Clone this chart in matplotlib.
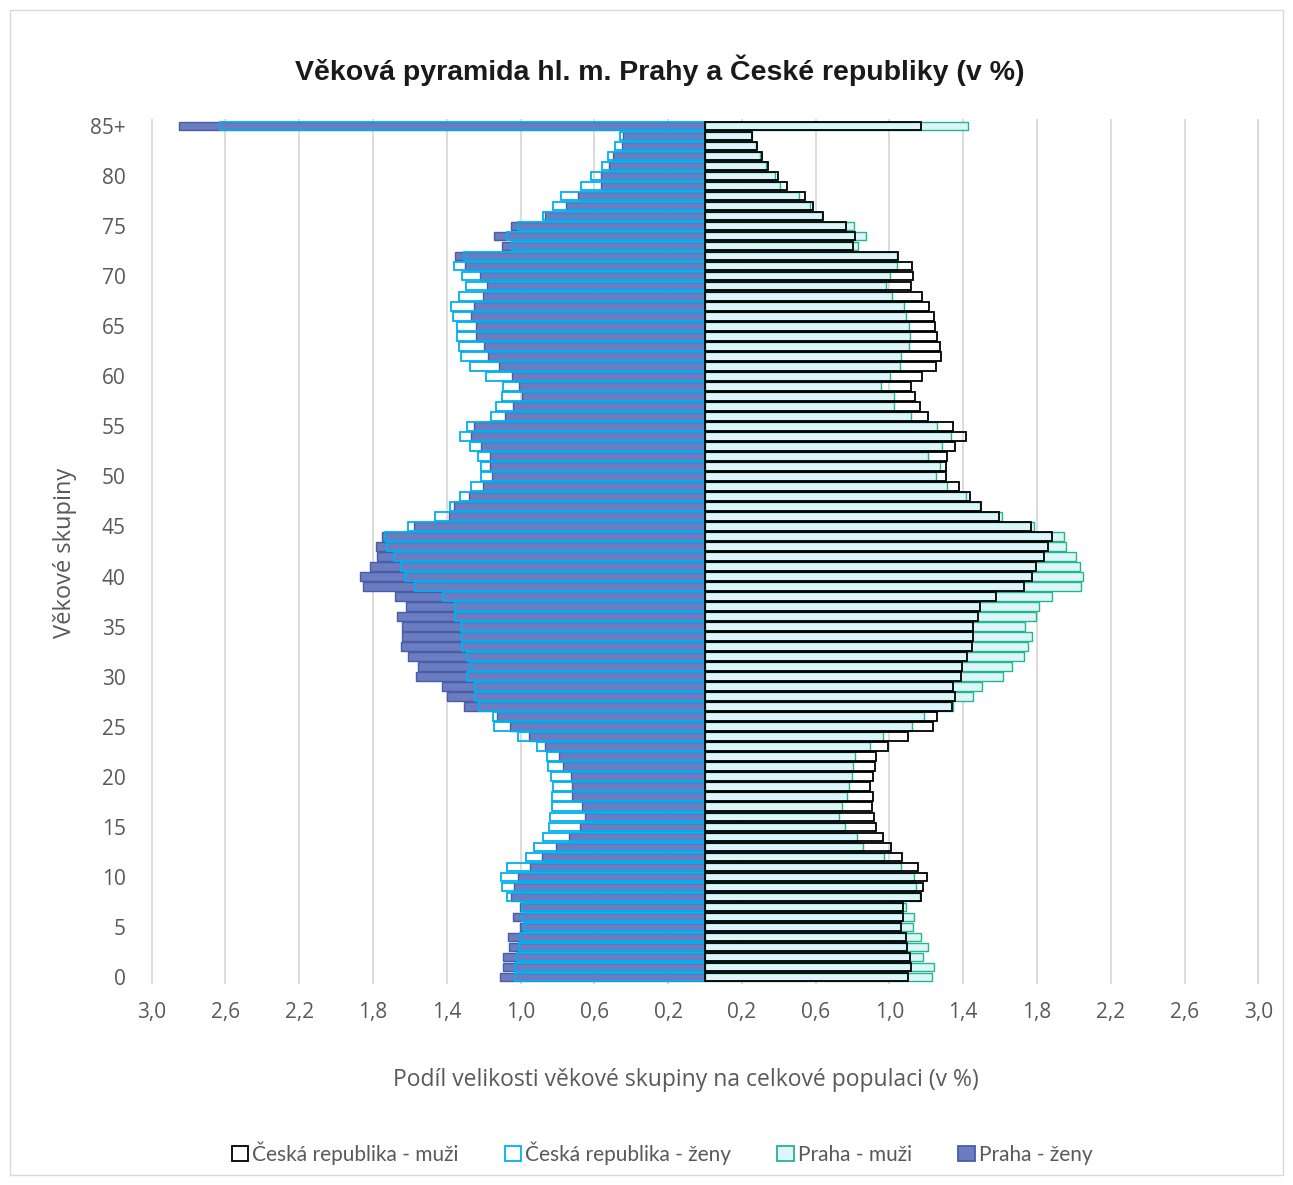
import numpy as np
import matplotlib
matplotlib.use("Agg")
import matplotlib.pyplot as plt
from matplotlib.patches import Patch, Rectangle

# age groups 0..84 and 85+
ages = list(range(86))
age_ticks = list(range(0, 86, 5))
age_labels = [str(a) for a in range(0, 85, 5)] + ["85+"]

# share of each age group in population (%), index = age
cz_zeny = [1.030, 1.032, 1.020, 1.010, 1.005, 0.983, 0.991, 0.991, 1.075, 1.100,
           1.106, 1.071, 0.973, 0.926, 0.881, 0.848, 0.840, 0.832, 0.828, 0.826,
           0.836, 0.850, 0.856, 0.909, 1.012, 1.142, 1.151, 1.224, 1.249, 1.245,
           1.292, 1.273, 1.288, 1.320, 1.316, 1.322, 1.353, 1.357, 1.422, 1.574,
           1.627, 1.649, 1.686, 1.725, 1.735, 1.613, 1.465, 1.382, 1.328, 1.271,
           1.216, 1.212, 1.232, 1.275, 1.330, 1.290, 1.159, 1.132, 1.102, 1.093,
           1.190, 1.275, 1.324, 1.335, 1.343, 1.343, 1.367, 1.375, 1.335, 1.296,
           1.320, 1.361, 1.306, 1.044, 1.071, 1.016, 0.879, 0.822, 0.779, 0.674,
           0.617, 0.558, 0.525, 0.488, 0.460, 2.632]
praha_zeny = [1.110, 1.093, 1.095, 1.065, 1.069, 1.001, 1.042, 1.001, 1.051, 1.038,
              1.016, 0.950, 0.885, 0.809, 0.736, 0.676, 0.652, 0.668, 0.721, 0.721,
              0.726, 0.770, 0.793, 0.867, 0.952, 1.055, 1.128, 1.306, 1.398, 1.426,
              1.565, 1.555, 1.613, 1.647, 1.643, 1.643, 1.670, 1.621, 1.682, 1.852,
              1.870, 1.819, 1.780, 1.784, 1.751, 1.578, 1.386, 1.359, 1.281, 1.202,
              1.157, 1.165, 1.165, 1.216, 1.271, 1.255, 1.085, 1.042, 0.991, 1.008,
              1.046, 1.116, 1.175, 1.200, 1.243, 1.239, 1.269, 1.255, 1.202, 1.181,
              1.220, 1.302, 1.353, 1.102, 1.142, 1.050, 0.867, 0.756, 0.691, 0.562,
              0.566, 0.523, 0.497, 0.452, 0.443, 2.851]
cz_muzi = [1.103, 1.118, 1.110, 1.094, 1.089, 1.062, 1.072, 1.072, 1.173, 1.180,
           1.202, 1.153, 1.067, 1.008, 0.965, 0.927, 0.918, 0.904, 0.913, 0.895,
           0.911, 0.922, 0.929, 0.992, 1.098, 1.238, 1.259, 1.338, 1.354, 1.344,
           1.390, 1.394, 1.419, 1.448, 1.455, 1.455, 1.478, 1.491, 1.577, 1.729,
           1.774, 1.794, 1.839, 1.860, 1.883, 1.770, 1.596, 1.498, 1.437, 1.379,
           1.309, 1.308, 1.311, 1.358, 1.413, 1.347, 1.207, 1.166, 1.139, 1.116,
           1.178, 1.250, 1.277, 1.272, 1.256, 1.245, 1.241, 1.216, 1.177, 1.116,
           1.128, 1.125, 1.048, 0.802, 0.814, 0.762, 0.642, 0.583, 0.543, 0.445,
           0.396, 0.341, 0.307, 0.282, 0.256, 1.171]
praha_muzi = [1.232, 1.239, 1.182, 1.207, 1.171, 1.126, 1.134, 1.092, 1.164, 1.143,
              1.132, 1.062, 0.969, 0.857, 0.823, 0.757, 0.728, 0.743, 0.768, 0.782,
              0.798, 0.805, 0.814, 0.897, 0.965, 1.121, 1.186, 1.347, 1.451, 1.501,
              1.618, 1.666, 1.729, 1.751, 1.774, 1.735, 1.795, 1.813, 1.882, 2.039,
              2.047, 2.034, 2.011, 1.959, 1.944, 1.783, 1.609, 1.490, 1.415, 1.311,
              1.252, 1.272, 1.209, 1.284, 1.335, 1.257, 1.116, 1.026, 1.026, 0.954,
              1.003, 1.056, 1.065, 1.107, 1.110, 1.107, 1.092, 1.078, 1.012, 0.981,
              1.003, 1.039, 1.039, 0.832, 0.874, 0.807, 0.637, 0.570, 0.508, 0.407,
              0.380, 0.330, 0.300, 0.278, 0.253, 1.424]

x_ticks = [0.2, 0.6, 1.0, 1.4, 1.8, 2.2, 2.6, 3.0]

# colours
c_purple = "#6B7DC1"
c_purple_edge = "#4A5CA6"
c_cyan = "#00B0F0"
c_green = "#22B887"
c_light = "#DDF4FB"
c_text = "#595959"

fig = plt.figure(figsize=(12.93, 11.85), dpi=100)
ax = fig.add_axes([148 / 1293, 1 - 984 / 1185, 1114 / 1293, 865 / 1185])

h = 0.86
# women on the left (negative)
ax.barh(ages, -np.array(praha_zeny), height=h, color=c_purple,
        edgecolor=c_purple_edge, linewidth=1.0, zorder=2)
ax.barh(ages, -np.array(cz_zeny), height=h, color="none",
        edgecolor=c_cyan, linewidth=1.3, zorder=3)
# men on the right
ax.barh(ages, praha_muzi, height=h, color=c_light,
        edgecolor=c_green, linewidth=1.0, zorder=2)
ax.barh(ages, cz_muzi, height=h, color="none",
        edgecolor="black", linewidth=1.3, zorder=3)

ticks = [-t for t in x_ticks[::-1]] + x_ticks
ax.set_xticks(ticks)
ax.set_xticklabels([("%.1f" % abs(t)).replace(".", ",") for t in ticks],
                   fontsize=15, color=c_text, family="Open Sans")
ax.set_xlim(-3.02, 3.02)
ax.set_yticks(age_ticks)
ax.set_yticklabels(age_labels, fontsize=15, color=c_text, family="Open Sans")
ax.set_ylim(-0.7, 85.7)
ax.tick_params(axis="both", length=0)
ax.tick_params(axis="x", pad=13)
ax.tick_params(axis="y", pad=16)
ax.grid(axis="x", color="#D9D9D9", linewidth=1.3, zorder=0)
ax.set_axisbelow(True)
for s in ax.spines.values():
    s.set_visible(False)

fig.text(65 / 1293, 1 - 553 / 1185, "Věkové skupiny", rotation=90,
         ha="center", va="center", fontsize=17, color=c_text, family="Open Sans")
fig.text(686 / 1293, 1 - 1080 / 1185,
         "Podíl velikosti věkové skupiny na celkové populaci (v %)",
         ha="center", va="center", fontsize=16.5, color=c_text, family="Open Sans")
fig.text(660 / 1293, 1 - 70 / 1185,
         "Věková pyramida hl. m. Prahy a České republiky (v %)",
         ha="center", va="center", fontsize=20.5, fontweight="bold",
         color="#1A1A1A", family="Liberation Sans")

handles = [
    Patch(facecolor="white", edgecolor="black", linewidth=1.3),
    Patch(facecolor="white", edgecolor=c_cyan, linewidth=1.3),
    Patch(facecolor=c_light, edgecolor=c_green, linewidth=1.3),
    Patch(facecolor=c_purple, edgecolor=c_purple_edge, linewidth=1.3),
]
labels = ["Česká republika - muži", "Česká republika - ženy",
          "Praha - muži", "Praha - ženy"]
fig.legend(handles, labels, loc="center", bbox_to_anchor=(662 / 1293, 1 - 1153 / 1185),
           ncol=4, frameon=False, handlelength=0.8, handleheight=0.8,
           handletextpad=0.2, columnspacing=2.2,
           prop={"family": "Lato", "size": 15}, labelcolor=c_text)

# light frame around the whole chart
fig.patches.append(Rectangle((10 / 1293, 10 / 1185), 1273 / 1293, 1165 / 1185,
                             transform=fig.transFigure, fill=False,
                             edgecolor="#D9D9D9", linewidth=1))

fig.savefig("out.png", dpi=100)
